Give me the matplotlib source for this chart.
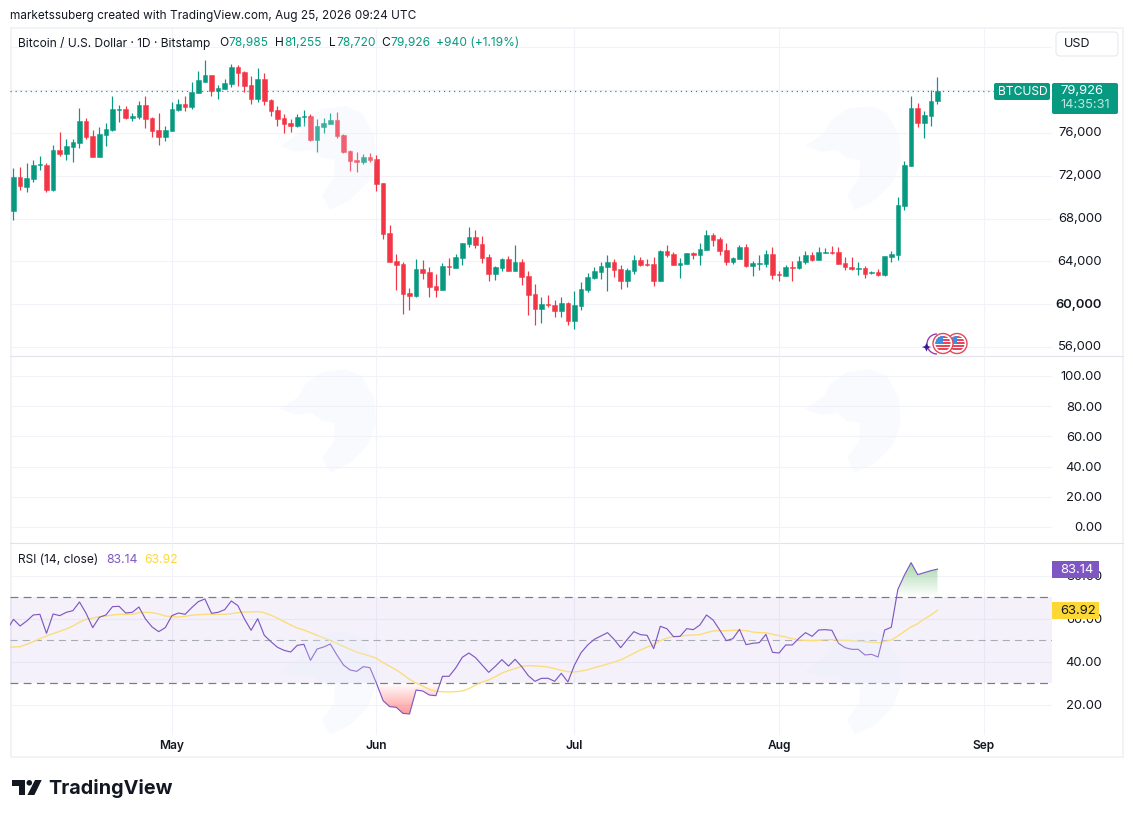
import numpy as np, pandas as pd
import matplotlib
matplotlib.use('Agg')
import matplotlib.pyplot as plt
from matplotlib.patches import Rectangle, FancyBboxPatch, Polygon, Circle, Arc
from matplotlib.path import Path
from matplotlib.ticker import FuncFormatter
from matplotlib.transforms import ScaledTranslation

plt.rcParams['font.family'] = ['Inter', 'DejaVu Sans']

opens = [68710,71890,70960,71700,73010,73010,70680,74410,74040,74690,
75070,77120,75720,73760,75820,76280,78180,78240,77400,77500,
78620,77400,76280,75630,76190,78150,78710,78430,79740,80770,
81420,79930,80110,80580,82170,81700,80490,79180,81050,79090,
78150,77400,76940,76660,77530,77590,75350,76560,76840,77220,
75820,74320,73480,73290,73760,73570,71330,66660,64040,63760,
61050,60770,63290,63010,61700,61330,63570,63380,64320,65630,
66280,65630,64410,62820,63380,64230,63100,63950,62640,60960,
59550,60020,59930,59370,60110,58430,59830,61330,62450,63010,
63480,63950,63290,62170,63100,64130,63760,63760,62170,64970,
64690,63670,63760,64790,64600,65070,66470,66100,65070,63950,
64230,65350,63570,63760,63760,64690,62820,62640,63480,63380,
63950,64600,64130,64790,64880,64880,63850,63480,63290,63380,
62920,63010,62730,64410,64600,69180,72920,78340,76940,77590,
78985]
highs = [72730,72790,73170,73480,73850,73170,74880,76100,75440,75470,
78340,77400,76280,76560,76940,79460,78620,78520,77870,78990,
79460,77500,77870,76660,78900,79180,79460,80770,81800,82820,
81420,80490,81050,82450,82360,81800,81330,82080,81610,79180,
78520,77780,77310,77780,78150,77780,77310,77400,77870,77960,
75910,74410,74230,74040,74130,73940,71330,67400,64690,63950,
61520,64230,64130,63480,62820,63850,64320,64690,65720,67220,
66940,66380,64690,63570,64320,64510,65530,64230,63100,61890,
60670,60860,60390,60670,60210,61240,62080,62920,63480,63950,
64600,64230,63670,63380,64600,64410,64230,64410,65070,65530,
64880,64320,64790,64880,65720,66940,66660,66280,65720,64410,
65530,65630,64040,64600,65070,65350,63100,63670,64040,64510,
64970,64880,65350,65250,65440,65350,64410,64410,63950,63570,
63100,63290,64510,64970,70020,73380,79460,78800,78060,80020,
81255]
lows = [67870,70680,70490,71420,72540,70490,70580,73850,73480,73290,
74600,75440,73760,73760,74790,76190,77030,77310,77120,77310,
76470,75630,74880,75250,76190,78060,78060,78240,79740,80770,
79460,79180,80110,80300,80390,79830,78710,78900,78620,77590,
76660,76000,76100,76560,76660,75250,74230,76000,76840,75530,
74130,72450,72360,73100,73290,70580,66090,63950,61330,59090,
59460,60670,62360,60670,60670,61330,62730,63380,63670,65350,
65250,63850,62170,62260,63100,63100,63100,61800,58990,58060,
58250,59740,58810,58810,58060,57680,59460,61140,62360,62360,
61240,62540,61420,61610,62820,63570,63570,61700,62170,64410,
63670,62450,63760,64230,63670,65070,65440,64600,63670,63760,
64230,63480,62640,63200,63480,62360,62170,62640,62170,63290,
63760,64040,64130,64790,64690,63760,63200,63200,62730,62450,
62820,62640,62640,63950,64130,68810,72920,76560,75530,76660,
78720]
closes = [71890,71050,71800,73010,73110,70680,74410,74040,74790,75160,
77120,75630,73760,75910,76380,78240,78240,77400,77590,78620,
77310,76190,75630,76280,78240,78710,78430,79860,80950,81420,
79930,80210,80670,82170,81610,80390,79180,81050,78990,78060,
77310,76840,76660,77500,77590,75350,76660,76940,77220,75720,
74230,73390,73320,73760,73480,71230,66560,63950,63670,60960,
60770,63290,62920,61610,61330,63570,63480,64410,65720,66280,
65530,64320,62820,63480,64230,63100,63950,62540,60860,59550,
60020,59930,59370,60110,58430,59930,61420,62540,63100,63570,
63950,63200,62170,63200,64130,63670,63670,62170,64970,64600,
63670,63850,64790,64600,65160,66470,66000,64970,63950,64320,
65350,63570,63850,63850,64690,62730,62730,63480,63380,64040,
64600,64130,64880,64880,64790,63760,63480,63290,63380,62820,
63040,62730,64510,64690,69270,73010,78340,76940,77680,78985,
79926]
rsi = [54.8,59.75,56.65,58.97,61.77,62.08,53.23,62.24,61.46,63.01,63.79,67.83,62.55,55.87,60.68,61.77,65.65,65.81,62.7,63.01,65.5,
59.9,56.18,54.0,55.87,61.46,62.7,62.08,65.19,67.98,69.22,62.55,63.01,64.25,68.29,66.12,59.9,54.63,60.06,52.3,49.35,
46.71,45.31,44.53,47.64,48.11,40.65,45.93,46.86,48.26,43.14,38.48,36.15,35.53,37.7,37.24,29.94,21.86,19.07,18.76,15.96,
15.65,26.83,26.37,24.5,24.19,33.2,33.2,37.08,42.05,44.07,41.9,38.48,35.06,37.86,40.96,38.01,41.12,37.7,33.51,30.87,
32.27,32.27,30.87,34.6,30.56,38.48,44.22,47.8,50.43,51.99,53.54,50.43,46.55,50.43,54.0,52.61,52.3,46.09,56.49,55.4,
51.68,51.83,55.4,54.94,57.11,61.77,59.44,54.78,49.81,50.75,55.09,47.95,48.57,48.88,52.76,44.38,44.07,47.8,47.8,50.9,
53.54,51.83,54.78,54.94,54.63,48.57,46.55,45.78,45.78,43.14,43.45,42.2,54.78,56.03,73.73,80.4,86.15,80.56,81.49,82.42,83.14]
rsi_ma = [46.71,46.86,47.02,48.11,49.35,50.75,52.0,53.07,54.16,55.25,56.65,58.35,59.75,60.37,60.99,61.3,61.77,62.08,62.08,62.08,62.86,
63.01,62.86,62.24,61.3,60.99,60.84,61.15,61.62,61.93,62.08,62.08,62.08,62.08,62.39,62.86,63.17,63.17,63.32,62.86,61.62,
60.37,58.67,57.11,55.71,54.78,53.54,52.3,51.06,49.81,48.57,47.17,45.78,44.53,43.6,42.67,41.58,39.57,37.86,36.15,34.13,
31.8,30.09,28.7,27.14,26.2,26.06,25.9,26.06,26.37,27.45,29.16,30.56,31.49,33.04,34.75,35.84,36.77,37.86,38.17,38.01,
37.86,37.55,36.77,35.99,35.37,35.22,35.68,36.3,37.24,38.01,38.94,39.88,40.81,42.36,43.91,45.47,46.86,47.8,49.81,51.06,
51.68,51.83,52.3,52.45,52.61,53.54,54.32,54.47,54.47,54.63,54.63,54.47,53.85,53.54,53.54,52.76,52.14,51.52,50.75,50.12,
49.97,49.81,49.97,50.28,50.28,49.97,49.97,49.81,49.5,49.35,49.04,48.88,49.35,50.12,51.99,54.16,56.18,57.73,59.9,61.77,63.92]
price_ticks = [56000,60000,64000,68000,72000,76000,80000,84000]
pane2_ticks = [0,20,40,60,80,100]
rsi_ticks = [20,40,60,80]
month_labels = ['May','Jun','Jul','Aug','Sep']
month_dates = ['2026-05-01','2026-06-01','2026-07-01','2026-08-01','2026-09-01']
start = pd.Timestamp('2026-04-07')

GREEN, RED = '#089981', '#F23645'
GRID = '#f1f3f8'
W, H = 1133, 818
PX = 72/100
fig = plt.figure(figsize=(W/100, H/100), dpi=100, facecolor='white')

def rect(l, t, r, b):
    return [l/W, 1-b/H, (r-l)/W, (b-t)/H]

def overlay(z):
    a = fig.add_axes([0, 0, 1, 1], zorder=z)
    a.set_xlim(0, W); a.set_ylim(H, 0); a.axis('off'); a.patch.set_alpha(0)
    return a

bg = overlay(0)
wm = overlay(6)
top = overlay(10)

# frame
bg.add_patch(Rectangle((10.5, 27.5), 1112, 729.5, fill=False, ec='#eff1f5', lw=1.6*PX))
for y in (356, 543):
    bg.plot([10, 1123], [y, y], color='#e0e3e9', lw=1.1*PX)

x = np.arange(len(opens))
xlim = (-0.53, 157.35)
months = [(pd.Timestamp(d)-start).days for d in month_dates]

def pane(t, b, ylim, ticks, fmt, lift=0):
    a = fig.add_axes(rect(10, t, 1052, b), zorder=5)
    a.patch.set_alpha(0)
    a.set_xlim(*xlim); a.set_ylim(*ylim)
    for s in a.spines.values():
        s.set_visible(False)
    a.yaxis.tick_right()
    a.set_yticks(ticks)
    a.yaxis.set_major_formatter(FuncFormatter(fmt))
    a.tick_params(axis='y', length=0, pad=50*PX, labelsize=13*PX, labelcolor='#131722')
    off = ScaledTranslation(0, lift/100, fig.dpi_scale_trans)
    for lab in a.get_yticklabels():
        lab.set_ha('right')
        lab.set_transform(lab.get_transform() + off)
    a.set_xticks(months)
    a.set_xticklabels([])
    a.tick_params(axis='x', length=0)
    a.grid(True, color=GRID, lw=1.1*PX)
    a.set_axisbelow(True)
    return a

ax = pane(27, 356, (55159, 85907), price_ticks, lambda v, p: f'{v:,.0f}', lift=1.2)
ax2 = pane(356, 543, (-10.6, 113.2), pane2_ticks, lambda v, p: f'{v:.2f}')
ax3 = pane(543, 735, (5.87, 95.3), rsi_ticks, lambda v, p: f'{v:.2f}')
ax3.set_xticklabels(month_labels, fontsize=12*PX, fontweight='semibold', color='#131722')
ax3.tick_params(axis='x', pad=3.5)
for lab in ax.get_yticklabels():
    if lab.get_text() == '60,000':
        lab.set_fontweight('semibold')

# candles
o, h, l, c = map(np.array, (opens, highs, lows, closes))
cols = [GREEN if cc >= oo else RED for oo, cc in zip(o, c)]
ax.vlines(x, l, h, colors=cols, lw=1.2*PX, zorder=3)
ax.bar(x, np.abs(c-o), bottom=np.minimum(o, c), width=0.72, color=cols, edgecolor=cols, lw=0.5*PX, zorder=4)
ax.axhline(closes[-1], xmin=0, xmax=(994-10)/1042, color=GREEN, lw=1.2*PX, ls=(0, (1, 3.2)), zorder=2)

# RSI
ax3.axhspan(30, 70, color='#7E57C2', alpha=0.08, lw=0, zorder=1)
for lev, colr, lw_ in ((70, '#787B86', 1.2), (30, '#787B86', 1.2), (50, '#a9abb5', 1.1)):
    ax3.axhline(lev, color=colr, lw=lw_*PX, ls=(0, (6.5, 4.5)), zorder=2)
r = np.array(rsi); m = np.array(rsi_ma)
rx = np.arange(len(r)) - (len(r) - len(opens))
mx = np.arange(len(m)) - (len(m) - len(opens))
rxf = np.arange(rx[0], rx[-1] + 0.001, 0.02)
rf = np.interp(rxf, rx, r)

def grad(mask, ref, colour, alpha_low, alpha_high, vlow, vhigh):
    poly = ax3.fill_between(rxf, rf, ref, where=mask, facecolor='none', edgecolor='none')
    img = np.zeros((64, 1, 4)); img[..., :3] = matplotlib.colors.to_rgb(colour)
    img[..., 3] = np.linspace(alpha_low, alpha_high, 64).reshape(-1, 1)
    im = ax3.imshow(img, extent=(rxf[0], rxf[-1], vlow, vhigh), aspect='auto', origin='lower', zorder=2)
    im.set_clip_path(Path.make_compound_path(*poly.get_paths()), transform=ax3.transData)

grad(rf > 70, 70, '#4CAF50', 0.0, 0.5, 70, 86.2)
grad(rf < 30, 30, '#FF5252', 0.6, 0.0, 15.6, 30)
ax3.set_xlim(*xlim); ax3.set_ylim(5.87, 95.3)
ax3.plot(mx, m, color='#FBDD7A', lw=1.35*PX, zorder=3)
ax3.plot(rx, r, color='#7E57C2', lw=1.15*PX, zorder=4)

# watermark heads
head = np.array([(280,146),(298,134),(306,120),(322,109),(345,106),(362,113),(374,135),(376,160),(368,182),(350,200),(330,210),(322,195),(334,178),(335,160),(322,158),(312,150),(296,152)])
for dx in (0, 525):
    for dy in (0, 263, 525):
        wm.add_patch(Polygon(head + (dx, dy), closed=True, fc='#e6eefb', ec='none', alpha=0.24))

def T(a, x_, y_, s, **k):
    k.setdefault('va', 'center'); k.setdefault('fontsize', 13*PX); k.setdefault('color', '#131722')
    return a.text(x_, y_, s, **k)

# header
T(top, 10, 15.5, 'marketssuberg created with TradingView.com, Aug 25, 2026 09:24 UTC', fontsize=11.8*PX)
T(top, 18, 43, 'Bitcoin / U.S. Dollar · 1D · Bitstamp', fontsize=12*PX)
for xs, lab, val, adv in ((219, 'O', '78,985', 9.5), (275, 'H', '81,255', 9), (329, 'L', '78,720', 7), (381, 'C', '79,926', 9)):
    T(top, xs, 43, lab, fontsize=12*PX)
    T(top, xs + adv, 43, val, fontsize=12*PX, color=GREEN)
T(top, 436, 43, '+940 (+1.19%)', fontsize=12*PX, color=GREEN)

# USD box
top.add_patch(FancyBboxPatch((1056, 32), 62, 24, boxstyle='round,pad=0,rounding_size=4', fc='white', ec='#e6e8ed', lw=1.1*PX))
T(top, 1064, 44, 'USD', fontsize=12.5*PX)

# price badges
top.add_patch(FancyBboxPatch((994, 83), 56, 17, boxstyle='round,pad=0,rounding_size=2', fc=GREEN, ec='none'))
T(top, 998, 91.8, 'BTCUSD', color='white', fontsize=12.1*PX)
top.add_patch(FancyBboxPatch((1052, 83), 66, 31, boxstyle='round,pad=0,rounding_size=2', fc=GREEN, ec='none'))
T(top, 1060, 90.5, '79,926', color='white')
T(top, 1060.5, 104.5, '14:35:31', color='#bfe6de', fontsize=12.9*PX)

# RSI legend and badges
T(top, 18, 560, 'RSI (14, close)', fontsize=12*PX)
T(top, 106, 560, '83.14', color='#7E57C2', fontsize=12.2*PX)
T(top, 144, 560, '63.92', color='#FDD835', fontsize=12.2*PX)
top.add_patch(Rectangle((1052, 561), 47, 17, fc='#7E57C2', ec='none'))
T(top, 1060, 569.8, '83.14', color='white')
top.add_patch(Rectangle((1052, 602), 47, 17, fc='#FDD835', ec='none'))
T(top, 1060, 610.8, '63.92', color='#131722')

# event icons
top.add_patch(Arc((937, 344), 20, 20, theta1=90, theta2=270, ec='#9c3db5', lw=1.4*PX))
top.add_patch(Polygon([(926.5,343),(928,346),(931,347),(928,348.2),(926.5,351.5),(925,348.2),(922,347),(925,346)], fc='#3a1a9c', ec='none'))
for cx in (957, 943):
    top.add_patch(Circle((cx, 343.5), 10, fc='white', ec='#e8465a', lw=1.4*PX))
    clip = Circle((cx, 343.5), 7.6, transform=top.transData)
    for yy in range(336, 353, 3):
        rr = top.add_patch(Rectangle((cx-8, yy), 16, 1.6, fc='#e8465a', ec='none')); rr.set_clip_path(clip)
    rr = top.add_patch(Rectangle((cx-8, 336), 8, 7.5, fc='#3f8fe0', ec='none')); rr.set_clip_path(clip)

# TradingView logo
top.add_patch(Polygon([(12,780),(25.3,780),(25.3,795),(19.3,795),(19.3,785.7),(12,785.7)], fc='#131722', ec='none'))
top.add_patch(Circle((29.3,782.8), 2.8, fc='#131722', ec='none'))
top.add_patch(Polygon([(35,780),(41.7,780),(34.4,795),(27.4,795)], fc='#131722', ec='none'))
T(top, 48.5, 788.5, 'TradingView', fontsize=19.8*PX, fontweight='bold', color='#131722')

fig.savefig('out.png', dpi=100, facecolor='white')
